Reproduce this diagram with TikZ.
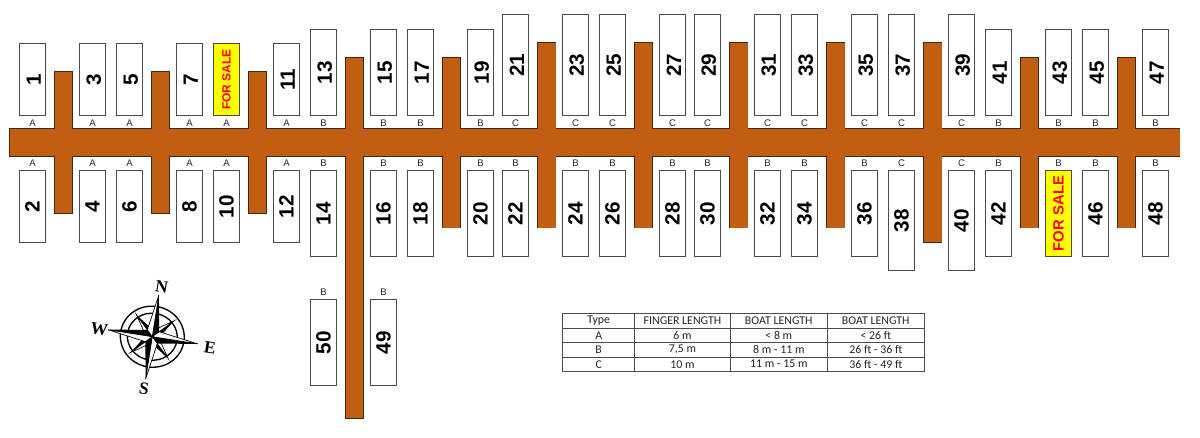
\documentclass[tikz,border=0pt]{standalone}
\usepackage{fontspec}
\setmainfont{Liberation Sans}
\newfontfamily\tablefont{Carlito}
\newfontfamily\compassfont{Liberation Serif}
\definecolor{dock}{HTML}{C25E12}
\definecolor{dockline}{HTML}{3C2A18}
\definecolor{slipline}{HTML}{4A4A4A}
\definecolor{saleyellow}{HTML}{FFFF00}
\tikzset{
  x=0.75pt,y=-0.75pt,
  slipbox/.style={draw=slipline,line width=0.9pt,fill=white,inner sep=0pt,outer sep=0pt,minimum width=19.5pt},
  slipsale/.style={slipbox,fill=saleyellow},
  slipnum/.style={inner sep=0pt,rotate=90,font=\fontsize{15.5}{15.5}\selectfont\bfseries},
  salesmall/.style={inner sep=0pt,rotate=90,text=red,font=\fontsize{9}{10}\selectfont\bfseries},
  salebig/.style={inner sep=0pt,rotate=90,text=red,font=\fontsize{11.2}{12}\selectfont\bfseries},
  typelabel/.style={inner sep=0pt,text=black!85,font=\fontsize{7.2}{8}\selectfont},
  tabletext/.style={inner sep=0pt,text=black!85,font=\tablefont\fontsize{8.9}{9}\selectfont},
  tablegrid/.style={draw=black!70,line width=0.8pt},
  compassletter/.style={inner sep=0pt,font=\compassfont\fontsize{13}{13}\selectfont\bfseries},
}
\begin{document}
\begin{tikzpicture}
\useasboundingbox (0,0) rectangle (1200,437);
\fill[white] (0,0) rectangle (1200,437);
% docks: outline then fill, so only the outer edge of the union remains
\def\docklist{10/1179.5/129/156,54.5/72/72/213,151.5/169/72/213,248.5/266/72/213,345.5/363/57.5/418,442.5/460/57.5/227.5,538/555.5/43/227.5,634.5/652/43/227.5,730/747.5/43/227.5,827/844.5/43/227.5,924/941.5/43/242,1020.7/1038.2/57.5/227.5,1117.7/1135/57.5/227.5}
\foreach \a/\b/\c/\d in \docklist {\draw[dockline,line width=1.4pt] (\a,\c) rectangle (\b,\d);}
\foreach \a/\b/\c/\d in \docklist {\fill[dock] (\a,\c) rectangle (\b,\d);}
% top row slips: number/left x/top y/type
\foreach \n/\x/\t/\k in {1/19.5/43.5/A,3/79.5/43.5/A,5/116.5/43.5/A,7/176.5/43.5/A,11/273.5/43.5/A,13/310.5/29.5/B,15/370.5/29.5/B,17/407.5/29.5/B,19/467.5/29.5/B,21/502.5/14.5/C,23/562.5/14.5/C,25/599.5/14.5/C,27/659.5/14.5/C,29/694.5/14.5/C,31/754.5/14.5/C,33/791.5/14.5/C,35/851.5/14.5/C,37/888.5/14.5/C,39/948.5/14.5/C,41/985.5/29.5/B,43/1045.5/29.5/B,45/1082.5/29.5/B,47/1142.5/29.5/B} {
  \pgfmathsetmacro{\hh}{(115.5-\t)*0.75}
  \node[slipbox,minimum height=\hh pt,anchor=south west] (s\n) at (\x,115.5) {};
  \node[slipnum] (n\n) at ([xshift=1pt]s\n.center) {\n};
  \node[typelabel] (t\n) at (\x+13,122.7) {\k};
}
% bottom row slips: number/left x/bottom y/type
\foreach \n/\x/\t/\k in {2/19.5/242.5/A,4/79.5/242.5/A,6/116.5/242.5/A,8/176.5/242.5/A,10/213.5/242.5/A,12/273.5/242.5/A,14/310.5/256.5/B,16/370.5/256.5/B,18/407.5/256.5/B,20/467.5/256.5/B,22/502.5/256.5/B,24/562.5/256.5/B,26/599.5/256.5/B,28/659.5/256.5/B,30/694.5/256.5/B,32/754.5/256.5/B,34/791.5/256.5/B,36/851.5/256.5/B,38/888.5/270.5/C,40/948.5/270.5/C,42/985.5/256.5/B,46/1082.5/256.5/B,48/1142.5/256.5/B} {
  \pgfmathsetmacro{\hh}{(\t-170.5)*0.75}
  \node[slipbox,minimum height=\hh pt,anchor=north west] (s\n) at (\x,170.5) {};
  \node[slipnum] (n\n) at (s\n.center) {\n};
  \node[typelabel] (t\n) at (\x+13,163.5) {\k};
}
% for-sale slips
\node[slipsale,minimum height=54pt,anchor=south west] (s9) at (213.5,115.5) {};
\node[salesmall] (n9) at (s9.center) {FOR SALE};
\node[typelabel] (t9) at (226.5,122.7) {A};
\node[slipsale,minimum height=64.5pt,anchor=north west] (s44) at (1045.5,170.5) {};
\node[salebig] (n44) at (s44.center) {FOR SALE};
\node[typelabel] (t44) at (1058.5,163.5) {B};
% slips 50 and 49
\foreach \n/\x in {50/310.5,49/370.5} {
  \node[slipbox,minimum height=64.5pt,anchor=north west] (s\n) at (\x,299.5) {};
  \node[slipnum] (n\n) at (s\n.center) {\n};
  \node[typelabel] (t\n) at (\x+13,292) {B};
}
% compass
\begin{scope}[shift={(152.3,336.7)},rotate=-9]
  \draw[line width=1pt] (0,0) ellipse (32 and 30.5);
  \draw[line width=1pt] (0,0) ellipse (25 and 23.5);
  \foreach \ang in {45,135,225,315} {
    \begin{scope}[rotate=\ang]
      \draw[line width=0.5pt,fill=white] (0,0) -- (27,0) -- (5,-4.5) -- cycle;
      \fill (0,0) -- (27,0) -- (5,4.5) -- cycle;
    \end{scope}
  }
  \foreach \ang/\len in {0/46,90/42.5,180/45,270/43} {
    \begin{scope}[rotate=\ang]
      \draw[line width=0.5pt,fill=white] (0,0) -- (\len,0) -- (6,-6) -- cycle;
      \fill (0,0) -- (\len,0) -- (6,6) -- cycle;
    \end{scope}
  }
\end{scope}
\node[compassletter,rotate=-9] (cn) at (161.7,286.7) {N};
\node[compassletter,rotate=-9] (cw) at (99.3,329.3) {W};
\node[compassletter,rotate=-9] (ce) at (210,347.3) {E};
\node[compassletter,rotate=-9] (cs) at (144,388.3) {S};
% table
\draw[tablegrid] (562.5,313.5) rectangle (924.5,371.5);
\foreach \y in {328.5,342.5,357.5} {\draw[tablegrid] (562.5,\y) -- (924.5,\y);}
\foreach \x in {634.5,730.5,827.5} {\draw[tablegrid] (\x,313.5) -- (\x,371.5);}
\foreach \cx/\col [count=\c] in {598.7/{Type,A,B,C},682.5/{FINGER LENGTH,6 m,{7,5 m},10 m},778.8/{BOAT LENGTH,< 8 m,8 m - 11 m,11 m - 15 m},875.8/{BOAT LENGTH,< 26 ft,26 ft - 36 ft,36 ft - 49 ft}} {
  \foreach \cell [count=\r] in \col {
    \pgfmathsetmacro{\yy}{313.3+14.5*(\r-1)+7.4}
    \node[tabletext] (c\c\r) at (\cx,\yy) {\cell};
  }
}
\end{tikzpicture}
\end{document}
